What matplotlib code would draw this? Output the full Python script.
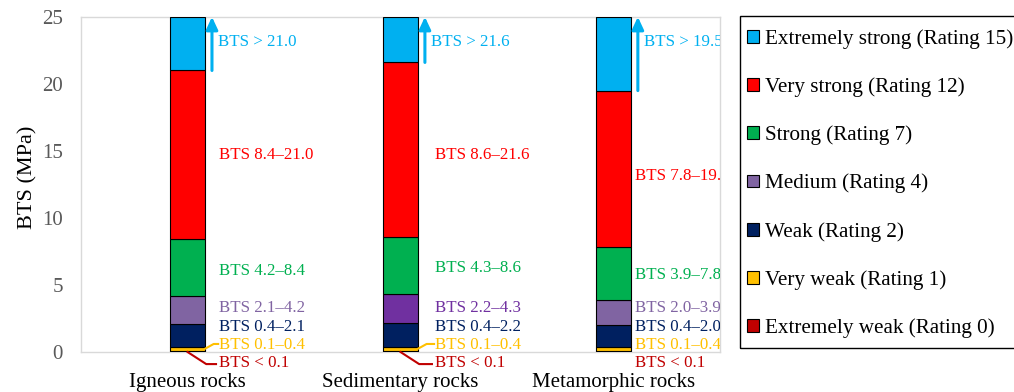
import numpy as np
import matplotlib
matplotlib.use("Agg")
import matplotlib.pyplot as plt
from matplotlib.patches import Rectangle

plt.rcParams['font.family'] = ['Liberation Serif', 'DejaVu Serif']

rocks = ["Igneous rocks", "Sedimentary rocks", "Metamorphic rocks"]
classes = ["Extremely weak (Rating 0)", "Very weak (Rating 1)", "Weak (Rating 2)",
           "Medium (Rating 4)", "Strong (Rating 7)", "Very strong (Rating 12)",
           "Extremely strong (Rating 15)"]
# upper bound of each class per rock type (MPa); top class runs to the axis limit
bounds = {
    "Igneous rocks":     [0.1, 0.4, 2.1, 4.2, 8.4, 21.0, 25.0],
    "Sedimentary rocks": [0.1, 0.4, 2.2, 4.3, 8.6, 21.6, 25.0],
    "Metamorphic rocks": [0.1, 0.4, 2.0, 3.9, 7.8, 19.5, 25.0],
}
colors = ["#C00000", "#FFC000", "#002060", "#8064A2", "#00B050", "#FF0000", "#00B0F0"]
medium_colors = ["#8064A2", "#7030A0", "#8064A2"]

# where the range labels sit
label_gap = [0.066, 0.08, 0.02]
red_label_y = [14.7, 14.7, 13.1]
green_label_y = [6.05, 6.27, 5.75]
leaders = [True, True, False]

fig = plt.figure(figsize=(10.14, 3.92), dpi=100)
ax = fig.add_axes([0.080, 0.102, 0.630, 0.855])

x = np.arange(len(rocks))
w = 0.165
fs = 12.2
for i, rock in enumerate(rocks):
    b = bounds[rock]
    bottoms = [0.0] + b[:-1]
    for k in range(len(classes)):
        c = colors[k] if k != 3 else medium_colors[i]
        ax.bar(x[i], b[k] - bottoms[k], w, bottom=bottoms[k], color=c,
               edgecolor="black", linewidth=0.8,
               label=classes[k] if i == 0 else None, zorder=3)

    edge = x[i] + w / 2
    tx = edge + label_gap[i]
    kw = dict(fontsize=fs, va="center", clip_on=True)
    ax.text(edge + 0.06, 23.1, f"BTS > {b[5]:.1f}", color=colors[6], **kw)
    ax.text(tx, red_label_y[i], f"BTS {b[4]:.1f}\u2013{b[5]:.1f}", color=colors[5], **kw)
    ax.text(tx, green_label_y[i], f"BTS {b[3]:.1f}\u2013{b[4]:.1f}", color=colors[4], **kw)
    ax.text(tx, 3.28, f"BTS {b[2]:.1f}\u2013{b[3]:.1f}", color=medium_colors[i], **kw)
    ax.text(tx, 1.85, f"BTS {b[1]:.1f}\u2013{b[2]:.1f}", color=colors[2], **kw)
    ax.text(tx, 0.5, f"BTS {b[0]:.1f}\u2013{b[1]:.1f}", color=colors[1], **kw)
    ax.text(tx, -0.85, f"BTS < {b[0]:.1f}", color=colors[0], fontsize=fs, va="center", clip_on=False)

    # leader lines for the two thin classes
    if leaders[i]:
        ax.plot([edge, edge + 0.04, tx - 0.005], [0.25, 0.6, 0.6],
                color=colors[1], lw=1.5, clip_on=False, zorder=4)
        ax.plot([x[i], edge + 0.005, tx - 0.015], [0.0, -0.9, -0.9],
                color=colors[0], lw=1.5, clip_on=False, zorder=4)

    # open-ended top class
    ax.annotate("", xy=(edge + 0.032, 25.0), xytext=(edge + 0.032, b[5]),
                arrowprops=dict(arrowstyle="-|>,head_length=0.75,head_width=0.35",
                                color=colors[6], lw=2.2, shrinkA=0, shrinkB=0),
                annotation_clip=False)

ax.set_xlim(-0.5, 2.5)
ax.set_ylim(0, 25)
ax.set_yticks(np.arange(0, 26, 5))
ax.set_xticks(x)
ax.set_xticklabels(rocks, fontsize=15)
ax.tick_params(axis="x", length=0, pad=15)
ax.tick_params(axis="y", length=0, pad=13, labelsize=15, labelcolor="#595959")
ax.set_ylabel("BTS (MPa)", fontsize=16)
ax.yaxis.set_label_coords(-0.068, 0.52)
for s in ax.spines.values():
    s.set_color("#D9D9D9")
    s.set_linewidth(1)

handles, labels = ax.get_legend_handles_labels()
fig.legend(handles[::-1], labels[::-1], loc="upper left",
           bbox_to_anchor=(747 / 1014, 1 - 29 / 392), fontsize=15.2,
           handlelength=0.55, handleheight=0.55, handletextpad=0.3,
           labelspacing=1.35, borderpad=0, borderaxespad=0, frameon=False)
fig.patches.append(Rectangle((740 / 1014, 1 - 348 / 392), 0.3, 332 / 392,
                             transform=fig.transFigure, fill=False,
                             edgecolor="black", linewidth=1))

fig.savefig("out.png", dpi=100)
